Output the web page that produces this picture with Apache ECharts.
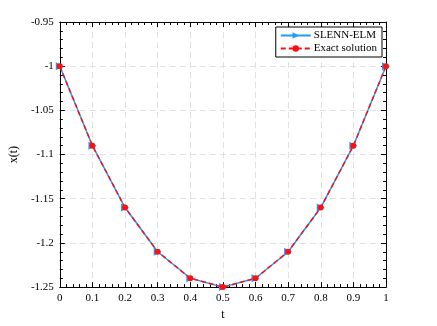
<!DOCTYPE html>
<html>
<head>
<meta charset="utf-8">
<script src="https://cdn.jsdelivr.net/npm/echarts@6/dist/echarts.min.js"></script>
<style>
  html, body { margin: 0; padding: 0; background: #fff; }
  #chart { width: 437px; height: 326px; }
</style>
</head>
<body>
<div id="chart"></div>
<script>
// t values and solutions
const tValues = [0, 0.1, 0.2, 0.3, 0.4, 0.5, 0.6, 0.7, 0.8, 0.9, 1];
const slennElm = [-1, -1.09, -1.16, -1.21, -1.24, -1.25, -1.24, -1.21, -1.16, -1.09, -1];
const exactSolution = [-1, -1.09, -1.16, -1.21, -1.24, -1.25, -1.24, -1.21, -1.16, -1.09, -1];

const font = "Liberation Serif";
const blue = "#1e9bff";
const red = "#ff1010";

const pairs = (ys) => tValues.map((t, i) => [t, ys[i]]);

const chart = echarts.init(document.getElementById("chart"));

const baseX = {
  type: "value",
  min: 0,
  max: 1,
  interval: 0.1,
  axisLine: { show: true, onZero: false, lineStyle: { color: "#000", width: 1 } },
  axisTick: { show: true, inside: true, length: 5, lineStyle: { color: "#000" } },
  minorTick: { show: true, splitNumber: 5, length: 3, lineStyle: { color: "#000" } }
};
const baseY = {
  type: "value",
  min: -1.25,
  max: -0.95,
  interval: 0.05,
  axisLine: { show: true, onZero: false, lineStyle: { color: "#000", width: 1 } },
  axisTick: { show: true, inside: true, length: 5, lineStyle: { color: "#000" } },
  minorTick: { show: true, splitNumber: 5, length: 3, lineStyle: { color: "#000" } }
};

chart.setOption({
  animation: false,
  backgroundColor: "#fff",
  textStyle: { fontFamily: font },
  grid: { left: 57, right: 51, top: 22, bottom: 35 },
  legend: {
    right: 55,
    top: 27,
    orient: "vertical",
    itemWidth: 30,
    itemHeight: 8,
    itemGap: 2,
    padding: [3, 5, 3, 4],
    borderColor: "#000",
    borderWidth: 1,
    backgroundColor: "#fff",
    textStyle: { fontFamily: font, fontSize: 11, color: "#000", padding: [0, 0, 0, -2] },
    data: ["SLENN-ELM", "Exact solution"]
  },
  xAxis: [
    Object.assign({}, baseX, {
      position: "bottom",
      name: "t",
      nameLocation: "middle",
      nameGap: 19,
      nameTextStyle: { fontFamily: font, fontSize: 12, color: "#000" },
      axisLabel: { fontFamily: font, fontSize: 11, color: "#000", margin: 6,
        formatter: (v) => String(+v.toFixed(2)) },
      splitLine: { show: true, lineStyle: { color: "#e0e0e0", type: [6, 4] } }
    }),
    Object.assign({}, baseX, {
      position: "top",
      axisLabel: { show: false },
      splitLine: { show: false }
    })
  ],
  yAxis: [
    Object.assign({}, baseY, {
      position: "left",
      name: "x(t)",
      nameLocation: "middle",
      nameGap: 30,
      nameTextStyle: { fontFamily: font, fontSize: 12, color: "#000" },
      axisLabel: { fontFamily: font, fontSize: 11, color: "#000", margin: 6,
        formatter: (v) => String(+v.toFixed(2)) },
      splitLine: { show: true, lineStyle: { color: "#e0e0e0", type: [6, 4] } }
    }),
    Object.assign({}, baseY, {
      position: "right",
      axisLabel: { show: false },
      splitLine: { show: false }
    })
  ],
  series: [
    {
      name: "SLENN-ELM",
      type: "line",
      data: pairs(slennElm),
      symbol: "triangle",
      symbolRotate: -90,
      symbolSize: 8,
      lineStyle: { color: blue, width: 1.5 },
      itemStyle: { color: blue },
      z: 2
    },
    {
      name: "Exact solution",
      type: "line",
      data: pairs(exactSolution),
      symbol: "circle",
      symbolSize: 6,
      lineStyle: { color: red, width: 1.5, type: [5, 3] },
      itemStyle: { color: red },
      z: 3
    }
  ]
});
</script>
</body>
</html>
